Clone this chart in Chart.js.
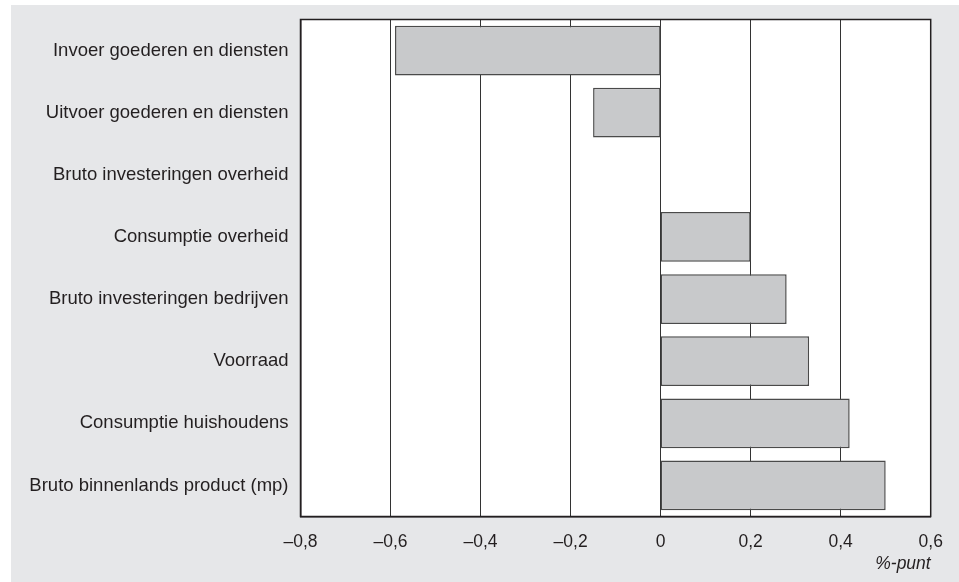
<!DOCTYPE html>
<html>
<head>
<meta charset="utf-8">
<script src="https://cdn.jsdelivr.net/npm/chart.js@4/dist/chart.umd.min.js"></script>
<style>
  html, body { margin: 0; padding: 0; background: #ffffff; width: 959px; height: 582px; overflow: hidden; }
  #wrap { position: absolute; left: 11px; top: 5px; width: 948px; height: 577px; background: #e6e7e9; }
</style>
</head>
<body>
<div id="wrap"><canvas id="c"></canvas></div>
<script>
const categories = [
  "Invoer goederen en diensten",
  "Uitvoer goederen en diensten",
  "Bruto investeringen overheid",
  "Consumptie overheid",
  "Bruto investeringen bedrijven",
  "Voorraad",
  "Consumptie huishoudens",
  "Bruto binnenlands product (mp)"
];
const values = [-0.59, -0.15, 0, 0.20, 0.28, 0.33, 0.42, 0.50];
const axisMin = -0.8;
const axisMax = 0.6;
const axisStep = 0.2;
const unitLabel = "%-punt";

const FONT = "'Liberation Sans', Arial, sans-serif";
const TEXT = "#231f20";

const boxPlugin = {
  id: 'box',
  afterDatasetsDraw(chart) {
    const a = chart.chartArea, ctx = chart.ctx;
    ctx.save();
    ctx.strokeStyle = '#231f20';
    ctx.lineWidth = 1.5;
    ctx.strokeRect(a.left, a.top, a.right - a.left, a.bottom - a.top);
    ctx.restore();
  }
};
const plotBg = {
  id: 'plotBg',
  beforeDraw(chart) {
    const a = chart.chartArea, ctx = chart.ctx;
    ctx.save();
    ctx.fillStyle = '#ffffff';
    ctx.fillRect(a.left, a.top, a.right - a.left, a.bottom - a.top);
    ctx.restore();
  }
};

new Chart(document.getElementById('c'), {
  type: 'bar',
  data: {
    labels: categories,
    datasets: [{
      data: values,
      backgroundColor: '#c8c9cb',
      borderColor: '#4a4a4a',
      borderWidth: 1.5,
      borderSkipped: false,
      barPercentage: 0.8,
      categoryPercentage: 1.0
    }]
  },
  options: {
    indexAxis: 'y',
    responsive: true,
    maintainAspectRatio: false,
    animation: false,
    layout: { padding: { left: 0, top: 14.5, right: 28.3, bottom: 0 } },
    plugins: { legend: { display: false }, tooltip: { enabled: false } },
    scales: {
      x: {
        min: axisMin,
        max: axisMax,
        grid: { color: '#333333', lineWidth: 1, drawTicks: false },
        border: { display: true, color: '#231f20', width: 1.5 },
        ticks: {
          stepSize: axisStep,
          padding: 15,
          color: TEXT,
          font: { family: FONT, size: 17.5 },
          callback: (v) => {
            const r = Math.round(v * 10) / 10;
            if (r === 0) return '0';
            return (r < 0 ? '\u2013' : '') + Math.abs(r).toFixed(1).replace('.', ',');
          }
        },
        title: {
          display: true,
          text: unitLabel,
          align: 'end',
          color: TEXT,
          font: { family: FONT, size: 17.5, style: 'italic' },
          padding: { top: 4, bottom: 7 }
        },
        afterFit(scale) { scale.height = 65.5; scale.paddingLeft = 0; scale.paddingRight = 0; }
      },
      y: {
        grid: { display: false },
        border: { display: true, color: '#231f20', width: 1.5 },
        ticks: {
          padding: 4,
          color: TEXT,
          font: { family: FONT, size: 18.5 }
        },
        afterFit(scale) { scale.width = 289.5; scale.paddingTop = 0; scale.paddingBottom = 0; }
      }
    }
  },
  plugins: [plotBg, boxPlugin]
});
</script>
</body>
</html>
